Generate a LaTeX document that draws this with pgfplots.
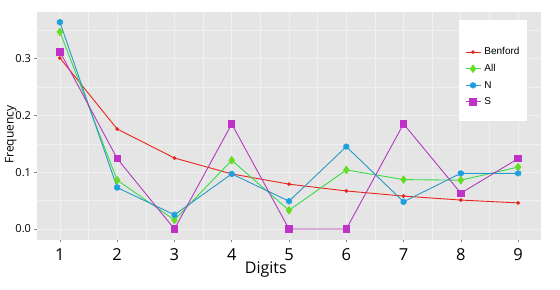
\documentclass[border=0pt]{standalone}
\usepackage{pgfplots}
\pgfplotsset{compat=1.18}
\usepackage{fontspec}
\setmainfont{Open Sans}
\newfontfamily\legfont{Liberation Sans}
\definecolor{ggbg}{HTML}{E5E5E5}
\definecolor{gggrid}{HTML}{F0F0F0}
\definecolor{cben}{HTML}{E8261E}
\definecolor{call}{HTML}{38DC48}
\definecolor{callm}{HTML}{66DD22}
\definecolor{cn}{HTML}{2A98C8}
\definecolor{cnm}{HTML}{1EA0E0}
\definecolor{cs}{HTML}{B23CC0}
\definecolor{csm}{HTML}{BE32C8}
\begin{document}
\begin{tikzpicture}
\begin{axis}[
  name=ax,
  scale only axis,
  width=504pt, height=228pt,
  xmin=0.6, xmax=9.4, ymin=-0.0193, ymax=0.382,
  axis background/.style={fill=ggbg},
  axis line style={draw=none},
  xtick={1,2,3,4,5,6,7,8,9},
  ytick={0,0.1,0.2,0.3},
  minor xtick={1.5,2.5,3.5,4.5,5.5,6.5,7.5,8.5},
  minor ytick={0.05,0.15,0.25,0.35},
  xtick pos=bottom, ytick pos=left,
  grid=both,
  major grid style={gggrid, line width=0.7pt},
  minor grid style={gggrid, line width=0.35pt},
  tick align=outside,
  major tick length=2.5pt,
  minor tick length=0pt,
  tick style={gray, line width=0.5pt},
  /pgf/number format/assume math mode=true,
  xticklabel style={font=\fontsize{16.5}{16.5}\selectfont, yshift=-2.5pt},
  yticklabel style={font=\fontsize{11}{11}\selectfont, /pgf/number format/fixed, /pgf/number format/fixed zerofill, /pgf/number format/precision=1},
  xlabel={Digits},
  xlabel style={font=\fontsize{16}{16}\selectfont, at={(rel axis cs:0.454,-0.128)}, anchor=center},
  ylabel={Frequency},
  ylabel style={font=\fontsize{12}{12}\selectfont, at={(rel axis cs:-0.052,0.462)}, anchor=center},
  legend style={at={(rel axis cs:0.837,0.965)}, anchor=north west, draw=none, fill=white,
    font=\legfont\fontsize{10}{10}\selectfont, inner xsep=6pt, inner ysep=13pt, row sep=4pt},
  legend cell align=left,
  legend image code/.code={\draw[mark repeat=2,mark phase=2] plot coordinates {(0pt,0pt)(7.5pt,0pt)(15pt,0pt)};},
]
\addlegendimage{empty legend}
\addlegendentry{\rule{0pt}{3pt}}
\addplot[cben, line width=0.9pt, mark=*, mark size=1.4pt, mark options={fill=cben, draw=cben}]
  coordinates {(1,0.301)(2,0.176)(3,0.125)(4,0.097)(5,0.079)(6,0.067)(7,0.058)(8,0.051)(9,0.046)};
\addlegendentry{\hspace{1.5pt}Benford}
\addplot[call, line width=0.9pt, mark=diamond*, mark size=3.6pt, mark options={fill=callm, draw=callm}]
  coordinates {(1,0.347)(2,0.086)(3,0.016)(4,0.121)(5,0.033)(6,0.104)(7,0.087)(8,0.086)(9,0.109)};
\addlegendentry{\hspace{1.5pt}All}
\addplot[cn, line width=0.9pt, mark=asterisk, mark size=3.1pt, mark options={draw=cnm, line width=2.2pt}]
  coordinates {(1,0.364)(2,0.073)(3,0.025)(4,0.097)(5,0.049)(6,0.145)(7,0.048)(8,0.098)(9,0.098)};
\addlegendentry{\hspace{1.5pt}N}
\addplot[cs, line width=0.9pt, mark=square*, mark size=3.2pt, mark options={fill=csm, draw=csm}]
  coordinates {(1,0.312)(2,0.124)(3,0.0)(4,0.185)(5,0.0)(6,0.0)(7,0.185)(8,0.063)(9,0.124)};
\addlegendentry{\hspace{1.5pt}S}
\end{axis}
\pgfresetboundingbox
\path ([xshift=-37pt,yshift=-50pt]ax.south west) rectangle ([xshift=19pt,yshift=12pt]ax.north east);
\end{tikzpicture}
\end{document}
